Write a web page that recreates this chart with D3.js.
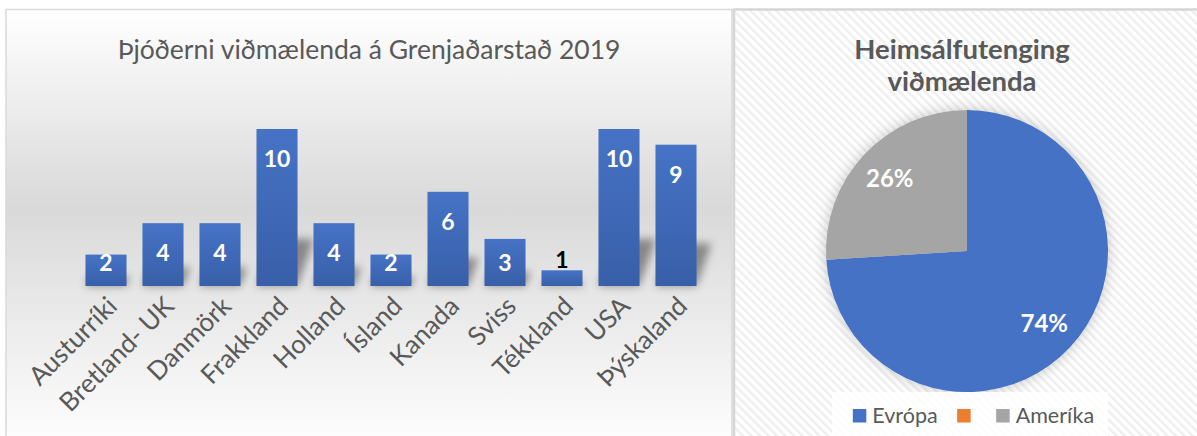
<!DOCTYPE html>
<html>
<head>
<meta charset="utf-8">
<script src="https://cdn.jsdelivr.net/npm/d3@7"></script>
<style>
  html, body { margin: 0; padding: 0; background: #ffffff; }
  svg { display: block; font-family: Lato, "Open Sans", sans-serif; }
</style>
</head>
<body>
<svg id="chart" width="1197" height="436"></svg>
<script>
// Respondents by nationality
const countries = ["Austurríki", "Bretland- UK", "Danmörk", "Frakkland", "Holland", "Ísland", "Kanada", "Sviss", "Tékkland", "USA", "Þýskaland"];
const respondents = [2, 4, 4, 10, 4, 2, 6, 3, 1, 10, 9];

// Share of respondents by continent (percent)
const continents = ["Evrópa", "", "Ameríka"];
const continentShare = [74, 0, 26];
const continentColors = ["#4472c4", "#ed7d31", "#a5a5a5"];

const barTitle = "Þjóðerni viðmælenda á Grenjaðarstað 2019";
const pieTitleLines = ["Heimsálfutenging", "viðmælenda"];

const textGrey = "#595959";
const svg = d3.select("#chart");
const defs = svg.append("defs");

// Panel background: soft grey band through the middle
const bg = defs.append("linearGradient").attr("id", "panelGrad")
  .attr("x1", 0).attr("y1", 0).attr("x2", 0).attr("y2", 1);
bg.append("stop").attr("offset", "0%").attr("stop-color", "#ffffff");
bg.append("stop").attr("offset", "45%").attr("stop-color", "#d9d9d9");
bg.append("stop").attr("offset", "100%").attr("stop-color", "#ffffff");

// Bar fill
const barGrad = defs.append("linearGradient").attr("id", "barGrad")
  .attr("x1", 0).attr("y1", 0).attr("x2", 0).attr("y2", 1);
barGrad.append("stop").attr("offset", "0%").attr("stop-color", "#4673c6");
barGrad.append("stop").attr("offset", "100%").attr("stop-color", "#385fa8");

// Blur used for the bars' cast shadows
defs.append("filter").attr("id", "castBlur")
  .attr("x", "-50%").attr("y", "-50%").attr("width", "200%").attr("height", "200%")
  .append("feGaussianBlur").attr("stdDeviation", 4);

// Halo around the pie
defs.append("filter").attr("id", "pieGlow")
  .attr("x", "-20%").attr("y", "-20%").attr("width", "140%").attr("height", "140%")
  .append("feDropShadow").attr("dx", 0).attr("dy", 0).attr("stdDeviation", 7)
  .attr("flood-color", "#000").attr("flood-opacity", 0.22);

// Diagonal stripe texture for the pie panel
const pat = defs.append("pattern").attr("id", "stripes")
  .attr("width", 6).attr("height", 6).attr("patternUnits", "userSpaceOnUse")
  .attr("patternTransform", "rotate(-45)");
pat.append("rect").attr("width", 6).attr("height", 6).attr("fill", "#ffffff");
pat.append("rect").attr("width", 2.5).attr("height", 6).attr("fill", "#efefef");

// ---------- Panels ----------
svg.append("rect").attr("x", 0).attr("y", 0).attr("width", 1197).attr("height", 436).attr("fill", "#ffffff");
svg.append("rect").attr("x", 6).attr("y", 9.5).attr("width", 726).attr("height", 440)
  .attr("fill", "url(#panelGrad)").attr("stroke", "#d9d9d9").attr("stroke-width", 1.5);
svg.append("rect").attr("x", 734).attr("y", 9.5).attr("width", 480).attr("height", 440)
  .attr("fill", "url(#stripes)").attr("stroke", "#d6d6d6").attr("stroke-width", 2.5);

// ---------- Bar chart ----------
const x = d3.scaleBand().domain(countries).range([77.5, 704.5])
  .paddingInner(0.28).paddingOuter(0.14);
const y = d3.scaleLinear().domain([0, 12]).range([286, 97.6]);
const base = y(0);

const bars = countries.map((c, i) => ({ c, v: respondents[i] }));

svg.append("text").attr("x", 369).attr("y", 59).attr("text-anchor", "middle")
  .attr("font-size", 26.5).attr("fill", textGrey).text(barTitle);

// cast shadows behind the bars, leaning up and to the right
svg.append("g").attr("filter", "url(#castBlur)").selectAll("path").data(bars).join("path")
  .attr("d", d => {
    const x0 = x(d.c), w = x.bandwidth();
    const sh = (base - y(d.v)) * 0.3;
    const dx = sh * 0.35;
    return `M${x0},${base} L${x0 + w},${base} L${x0 + w + dx},${base - sh} L${x0 + dx},${base - sh} Z`;
  })
  .attr("fill", "#000").attr("opacity", 0.4);

svg.append("g").selectAll("rect").data(bars).join("rect")
  .attr("x", d => x(d.c)).attr("y", d => y(d.v))
  .attr("width", x.bandwidth()).attr("height", d => base - y(d.v))
  .attr("fill", "url(#barGrad)");

// value labels: inside the top of the bar, or above it when the bar is too short
svg.append("g").selectAll("text").data(bars).join("text")
  .attr("x", d => x(d.c) + x.bandwidth() / 2)
  .attr("y", d => {
    const top = y(d.v);
    if (base - top < 25) return top - 11;
    return Math.min(top + 30, base - 23);
  })
  .attr("dy", "0.36em").attr("text-anchor", "middle")
  .attr("font-size", 23).attr("font-weight", 700)
  .attr("fill", d => (base - y(d.v) < 25 ? "#000000" : "#ffffff"))
  .text(d => d.v);

// category labels, rotated
svg.append("g").selectAll("text").data(bars).join("text")
  .attr("transform", d => `translate(${x(d.c) + x.bandwidth() / 2 - 1},${base + 8}) rotate(-45)`)
  .attr("dy", "0.75em").attr("text-anchor", "end")
  .attr("font-size", 26).attr("fill", textGrey)
  .text(d => d.c);

// ---------- Pie chart ----------
const cx = 967, cy = 251, r = 141;
pieTitleLines.forEach((line, i) => {
  svg.append("text").attr("x", 962).attr("y", 59 + i * 32).attr("text-anchor", "middle")
    .attr("font-size", 27.5).attr("font-weight", 700).attr("fill", textGrey).text(line);
});

const slices = continents.map((name, i) => ({ name, v: continentShare[i], color: continentColors[i] }));
const pie = d3.pie().value(d => d.v).sort(null);
const arcs = pie(slices);
const arc = d3.arc().innerRadius(0).outerRadius(r);
const labelArc = d3.arc().innerRadius(106).outerRadius(106);

const pg = svg.append("g").attr("transform", `translate(${cx},${cy})`);
pg.append("g").attr("filter", "url(#pieGlow)").selectAll("path").data(arcs).join("path")
  .attr("d", arc).attr("fill", d => d.data.color);

pg.selectAll("text").data(arcs.filter(d => d.data.v > 0)).join("text")
  .attr("transform", d => `translate(${labelArc.centroid(d)})`)
  .attr("dy", "0.36em").attr("text-anchor", "middle")
  .attr("font-size", 24).attr("font-weight", 700).attr("fill", "#ffffff")
  .text(d => d.data.v + "%");

// legend
svg.append("rect").attr("x", 832).attr("y", 392).attr("width", 276).attr("height", 50)
  .attr("fill", "#ffffff").attr("opacity", 0.85);
const lg = svg.append("g");
const sq = 13.5, gapText = 6, gapItem = 19.5;
let cursor = 0;
slices.forEach(s => {
  const g = lg.append("g").attr("transform", `translate(${cursor},0)`);
  g.append("rect").attr("x", 0).attr("y", -13.5).attr("width", sq).attr("height", sq).attr("fill", s.color);
  const t = g.append("text").attr("x", sq + gapText).attr("y", 0)
    .attr("font-size", 21.5).attr("fill", textGrey).text(s.name);
  const w = s.name ? t.node().getComputedTextLength() : 0;
  cursor += sq + gapText + w + gapItem;
});
const legendWidth = cursor - gapItem;
lg.attr("transform", `translate(${973.5 - legendWidth / 2},422.5)`);
</script>
</body>
</html>
